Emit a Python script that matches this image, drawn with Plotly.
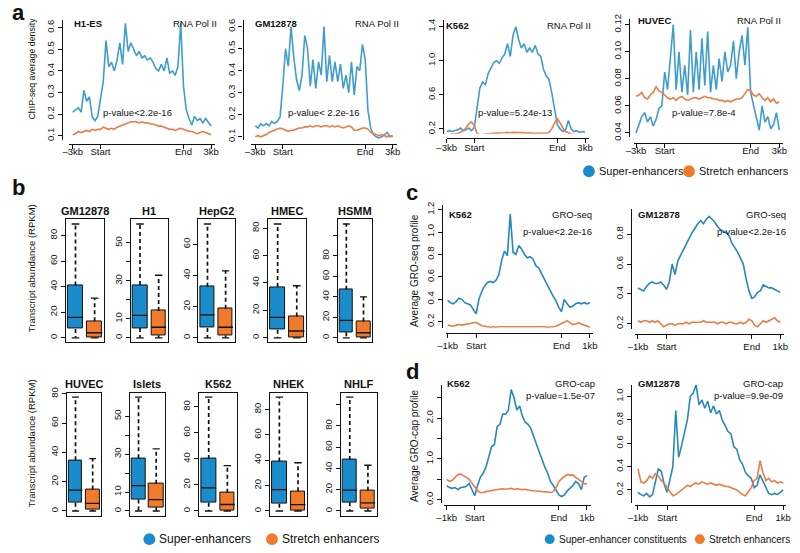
import plotly.graph_objects as go

W, H = 800, 553
FONT = "Liberation Sans, Arial, Helvetica, sans-serif"

BLUE_A = "#3f9dcd"
BLUE_CD = "#2689bc"
ORANGE_LN = "#eb7b47"
BLUE_BOX = "#1a8bcb"
ORANGE_BOX = "#f27a2b"
INK = "#111111"

# ---------------------------------------------------------------- data
# meta-gene positions (0 = upstream end, 20 = Start, 80 = End, 100 = downstream end)
positions = list(range(0, 101, 2))
x_tick_pos = [0, 20, 80, 100]
chip_ticks = ["–3kb", "Start", "End", "3kb"]
gro_ticks = ["–1kb", "Start", "End", "1kb"]

# panel a: RNA Pol II ChIP-seq average density
h1_super = [0.21, 0.22, 0.23, 0.21, 0.31, 0.26, 0.28, 0.19, 0.17, 0.19,
            0.27, 0.35, 0.54, 0.42, 0.44, 0.40, 0.45, 0.53, 0.43, 0.62,
            0.49, 0.53, 0.50, 0.47, 0.49, 0.46, 0.47, 0.45, 0.46, 0.44,
            0.41, 0.40, 0.43, 0.40, 0.46, 0.39, 0.40, 0.38, 0.42, 0.62,
            0.33, 0.22, 0.18, 0.15, 0.19, 0.17, 0.18, 0.16, 0.18, 0.16, 0.145]
h1_stretch = [0.105, 0.11, 0.12, 0.115, 0.12, 0.125, 0.12, 0.13, 0.125, 0.13,
              0.13, 0.14, 0.135, 0.13, 0.135, 0.13, 0.14, 0.145, 0.15, 0.155,
              0.16, 0.165, 0.165, 0.165, 0.16, 0.165, 0.16, 0.16, 0.155, 0.155,
              0.15, 0.145, 0.145, 0.14, 0.135, 0.13, 0.13, 0.125, 0.13, 0.135,
              0.13, 0.125, 0.12, 0.12, 0.115, 0.11, 0.115, 0.12, 0.115, 0.11, 0.105]
gm_chip_super = [0.15, 0.14, 0.16, 0.15, 0.16, 0.15, 0.17, 0.16, 0.17, 0.19,
                 0.33, 0.50, 0.42, 0.60, 0.46, 0.36, 0.31, 0.38, 0.56, 0.50,
                 0.33, 0.45, 0.32, 0.44, 0.38, 0.60, 0.35, 0.47, 0.35, 0.44,
                 0.35, 0.43, 0.32, 0.38, 0.30, 0.44, 0.29, 0.42, 0.40, 0.52,
                 0.45, 0.22, 0.14, 0.11, 0.10, 0.095, 0.10, 0.11, 0.12, 0.10, 0.105]
gm_chip_stretch = [0.10, 0.105, 0.10, 0.105, 0.11, 0.12, 0.125, 0.13, 0.135, 0.14,
                   0.135, 0.13, 0.125, 0.13, 0.13, 0.135, 0.14, 0.14, 0.145, 0.145,
                   0.15, 0.145, 0.15, 0.15, 0.145, 0.15, 0.15, 0.145, 0.15, 0.145,
                   0.15, 0.145, 0.14, 0.145, 0.15, 0.145, 0.13, 0.13, 0.135, 0.14,
                   0.14, 0.135, 0.12, 0.115, 0.11, 0.105, 0.11, 0.105, 0.10, 0.105, 0.10]
k562_chip_super = [0.17, 0.18, 0.17, 0.18, 0.19, 0.21, 0.18, 0.19, 0.21, 0.18,
                   0.22, 0.45, 0.68, 0.75, 0.72, 0.85, 0.92, 0.98, 1.00, 0.97,
                   1.03, 1.08, 1.20, 1.05, 1.30, 1.40, 1.25, 1.15, 1.20, 1.10,
                   1.15, 1.10, 1.18, 1.08, 1.05, 0.90, 0.82, 0.78, 0.62, 0.45,
                   0.25, 0.20, 0.17, 0.19, 0.30, 0.20, 0.17, 0.18, 0.16, 0.17, 0.16]
k562_chip_stretch = [0.13, 0.13, 0.14, 0.14, 0.15, 0.16, 0.18, 0.21, 0.26, 0.28,
                     0.24, 0.15, 0.13, 0.13, 0.14, 0.14, 0.145, 0.15, 0.15, 0.155,
                     0.15, 0.155, 0.16, 0.155, 0.16, 0.16, 0.155, 0.16, 0.155, 0.15,
                     0.155, 0.15, 0.15, 0.145, 0.15, 0.145, 0.15, 0.16, 0.20, 0.27,
                     0.32, 0.27, 0.21, 0.17, 0.15, 0.14, 0.135, 0.13, 0.125, 0.12, 0.115]
huvec_super = [0.040, 0.046, 0.052, 0.055, 0.048, 0.052, 0.045, 0.050, 0.058, 0.060,
               0.085, 0.072, 0.095, 0.120, 0.072, 0.100, 0.070, 0.090, 0.068, 0.116,
               0.070, 0.100, 0.072, 0.110, 0.075, 0.115, 0.070, 0.090, 0.072, 0.095,
               0.078, 0.100, 0.085, 0.090, 0.108, 0.080, 0.100, 0.112, 0.090, 0.118,
               0.070, 0.060, 0.050, 0.042, 0.060, 0.048, 0.052, 0.043, 0.046, 0.055, 0.042]
huvec_stretch = [0.067, 0.068, 0.070, 0.066, 0.065, 0.068, 0.070, 0.074, 0.071, 0.070,
                 0.068, 0.066, 0.065, 0.066, 0.064, 0.066, 0.067, 0.065, 0.064, 0.065,
                 0.066, 0.066, 0.065, 0.066, 0.067, 0.066, 0.066, 0.065, 0.065, 0.064,
                 0.064, 0.063, 0.064, 0.063, 0.064, 0.065, 0.065, 0.066, 0.069, 0.072,
                 0.071, 0.068, 0.067, 0.069, 0.066, 0.064, 0.066, 0.063, 0.065, 0.062, 0.063]

# panel c: GRO-seq profile
k562_groseq_super = [0.39, 0.37, 0.36, 0.38, 0.41, 0.40, 0.37, 0.36, 0.35, 0.31,
                     0.27, 0.40, 0.47, 0.52, 0.55, 0.56, 0.55, 0.57, 0.62, 0.75,
                     0.83, 0.79, 1.16, 0.82, 0.80, 0.88, 0.85, 0.80, 0.77, 0.78,
                     0.76, 0.70, 0.68, 0.63, 0.58, 0.53, 0.47, 0.43, 0.39, 0.33,
                     0.29, 0.40, 0.36, 0.33, 0.34, 0.36, 0.37, 0.36, 0.37, 0.36, 0.37]
k562_groseq_stretch = [0.17, 0.165, 0.16, 0.17, 0.175, 0.17, 0.175, 0.18, 0.185, 0.19,
                       0.195, 0.18, 0.165, 0.16, 0.155, 0.15, 0.155, 0.15, 0.155, 0.155,
                       0.16, 0.155, 0.16, 0.16, 0.155, 0.16, 0.155, 0.16, 0.155, 0.16,
                       0.155, 0.155, 0.16, 0.155, 0.155, 0.15, 0.15, 0.155, 0.16, 0.17,
                       0.18, 0.195, 0.21, 0.19, 0.175, 0.18, 0.19, 0.18, 0.17, 0.165, 0.15]
gm_groseq_super = [0.44, 0.43, 0.42, 0.45, 0.47, 0.48, 0.47, 0.47, 0.48, 0.46,
                   0.43, 0.48, 0.60, 0.53, 0.62, 0.66, 0.70, 0.74, 0.78, 0.81,
                   0.84, 0.87, 0.89, 0.87, 0.90, 0.92, 0.90, 0.88, 0.85, 0.83,
                   0.82, 0.81, 0.79, 0.74, 0.71, 0.68, 0.64, 0.60, 0.50, 0.42,
                   0.37, 0.38, 0.41, 0.42, 0.46, 0.45, 0.44, 0.44, 0.43, 0.42, 0.41]
gm_groseq_stretch = [0.22, 0.21, 0.22, 0.22, 0.21, 0.22, 0.21, 0.22, 0.20, 0.18,
                     0.19, 0.20, 0.20, 0.19, 0.20, 0.20, 0.20, 0.21, 0.20, 0.21,
                     0.21, 0.21, 0.21, 0.22, 0.21, 0.21, 0.21, 0.21, 0.20, 0.21,
                     0.21, 0.20, 0.21, 0.21, 0.20, 0.20, 0.21, 0.20, 0.21, 0.23,
                     0.22, 0.19, 0.18, 0.20, 0.22, 0.21, 0.22, 0.23, 0.24, 0.22, 0.21]

# panel d: GRO-cap profile
k562_grocap_super = [0.35, 0.30, 0.28, 0.30, 0.25, 0.30, 0.31, 0.33, 0.40, 0.25,
                     0.10, 0.35, 0.55, 0.65, 0.80, 1.05, 1.30, 1.35, 1.80, 1.85,
                     2.10, 2.10, 2.20, 2.70, 2.50, 2.20, 2.30, 2.05, 1.90, 1.85,
                     1.75, 1.55, 1.35, 1.20, 0.95, 0.80, 0.65, 0.45, 0.35, 0.25,
                     0.12, 0.08, 0.12, 0.22, 0.28, 0.35, 0.45, 0.40, 0.25, 0.55, 0.60]
k562_grocap_stretch = [0.50, 0.45, 0.48, 0.55, 0.62, 0.63, 0.60, 0.55, 0.50, 0.40,
                       0.30, 0.22, 0.18, 0.18, 0.20, 0.22, 0.23, 0.24, 0.25, 0.26,
                       0.27, 0.26, 0.27, 0.28, 0.26, 0.27, 0.26, 0.25, 0.26, 0.24,
                       0.23, 0.22, 0.22, 0.21, 0.20, 0.20, 0.19, 0.18, 0.20, 0.30,
                       0.45, 0.52, 0.58, 0.62, 0.60, 0.61, 0.55, 0.50, 0.45, 0.40, 0.38]
gm_grocap_super = [0.18, 0.16, 0.15, 0.17, 0.14, 0.16, 0.27, 0.38, 0.36, 0.25,
                   0.18, 0.30, 0.40, 0.88, 0.48, 0.58, 0.68, 0.80, 1.00, 1.03,
                   1.10, 0.93, 0.97, 0.90, 0.96, 0.86, 0.92, 0.85, 0.88, 0.80,
                   0.75, 0.70, 0.68, 0.57, 0.55, 0.46, 0.42, 0.35, 0.32, 0.30,
                   0.22, 0.24, 0.33, 0.28, 0.22, 0.17, 0.16, 0.17, 0.16, 0.18, 0.20]
gm_grocap_stretch = [0.38, 0.27, 0.26, 0.28, 0.32, 0.30, 0.34, 0.32, 0.28, 0.26,
                     0.22, 0.18, 0.15, 0.16, 0.18, 0.20, 0.22, 0.24, 0.23, 0.25,
                     0.26, 0.25, 0.27, 0.26, 0.25, 0.26, 0.25, 0.24, 0.25, 0.24,
                     0.23, 0.23, 0.22, 0.21, 0.20, 0.18, 0.16, 0.15, 0.18, 0.22,
                     0.28, 0.30, 0.45, 0.35, 0.28, 0.30, 0.27, 0.28, 0.26, 0.27, 0.26]

# panel b: transcript abundance (RPKM) box statistics
box_cells = ["GM12878", "H1", "HepG2", "HMEC", "HSMM",
             "HUVEC", "Islets", "K562", "NHEK", "NHLF"]
se_lower = [0, 0, 0, 0, 0, 0, 0, 0, 0, 0]
se_q1 = [7, 5.2, 6.4, 6, 5.5, 5.7, 6, 6.3, 5.7, 8.3]
se_median = [16, 11.8, 14.8, 15, 17, 14.3, 13.4, 17.8, 16.8, 19.7]
se_q3 = [41, 27.8, 32.8, 37, 47, 34.7, 27.8, 40, 39, 48]
se_upper = [89, 60, 73, 83, 111, 77.8, 60, 87.5, 89.7, 107]
st_lower = [0, 0, 0, 0, 0, 0, 0, 0, 0, 0]
st_q1 = [0.5, 1.4, 1.7, 0.3, 0.6, 1.1, 2, 0.5, 0.5, 2]
st_median = [4, 5.6, 6.8, 5, 5, 5.2, 6, 5, 5, 7.7]
st_q3 = [13, 14.2, 18.6, 15.6, 16, 14.7, 14.3, 14, 15.5, 19]
st_upper = [31, 33, 43, 38, 40, 35.8, 32.7, 34.8, 38, 43]
ticks_by_20 = [0, 20, 40, 60, 80]
ticks_by_20_to_100 = [0, 20, 40, 60, 80, 100]
labels_by_20_to_100 = ["0", "20", "40", "60", "80", ""]
ticks_by_10 = [0, 10, 20, 30, 40, 50]
labels_by_10 = ["0", "10", "", "30", "", "50"]
ticks_hepg2 = [0, 20, 40, 60]


def px(x):
    return x / W


def py(y):
    return 1 - y / H


def value_at(v1, p1, v2, p2, p):
    return v1 + (p - p1) * (v2 - v1) / (p2 - p1)


fig = go.Figure()
axes = {}
annotations = []
shapes = []


def note(text, x, y, size=10, xanchor="center", bold=False, angle=0):
    annotations.append(dict(
        text=f"<b>{text}</b>" if bold else text,
        x=px(x), y=py(y), xref="paper", yref="paper", showarrow=False,
        xanchor=xanchor, yanchor="middle", textangle=angle,
        font=dict(family=FONT, size=size, color=INK),
    ))


tick_font = dict(family=FONT, size=9.5, color=INK)

# ---------------------------------------------------------------- line panels
line_panels = [
    dict(cell="H1-ES", assay="RNA Pol II", pval="p-value&lt;2.2e-16",
         super_=h1_super, stretch=h1_stretch, xtext=chip_ticks,
         yticks=[0.1, 0.2, 0.3, 0.4, 0.5, 0.6], ytext=None, blue=BLUE_A,
         x0=64, x100=205, dom_x=(60, 209), yref=(0.1, 133, 0.6, 23), dom_y=(15, 137),
         yline=53, xline=141, head=(63, 213, 19), pv=(130, 109, "center"), lift=-5),
    dict(cell="GM12878", assay="RNA Pol II", pval="p-value&lt; 2.2e-16",
         super_=gm_chip_super, stretch=gm_chip_stretch, xtext=chip_ticks,
         yticks=[0.1, 0.2, 0.3, 0.4, 0.5, 0.6], ytext=None, blue=BLUE_A,
         x0=250, x100=390, dom_x=(246, 394), yref=(0.1, 134, 0.6, 22), dom_y=(15, 137),
         yline=237, xline=141, head=(248, 398, 19), pv=(320, 109, "center"), lift=-5),
    dict(cell="K562", assay="RNA Pol II", pval="p-value=5.24e-13",
         super_=k562_chip_super, stretch=k562_chip_stretch, xtext=chip_ticks,
         yticks=[0.2, 0.6, 1.0, 1.4], ytext=None, blue=BLUE_A,
         x0=445, x100=586, dom_x=(445, 590), yref=(0.2, 126, 1.4, 22), dom_y=(15, 131),
         yline=441, xline=135, head=(442, 594, 21), pv=(515, 109, "center"), lift=-3),
    dict(cell="HUVEC", assay="RNA Pol II", pval="p-value=7.8e-4",
         super_=huvec_super, stretch=huvec_stretch, xtext=chip_ticks,
         yticks=[0.04, 0.06, 0.08, 0.10, 0.12],
         ytext=["0.04", "0.06", "0.08", "0.10", "0.12"], blue=BLUE_A,
         x0=638, x100=784, dom_x=(636, 788), yref=(0.04, 130, 0.12, 20), dom_y=(14, 134),
         yline=631, xline=140, head=(638, 788, 16), pv=(707, 109, "center"), lift=-5),
    dict(cell="K562", assay="GRO-seq", pval="p-value&lt;2.2e-16",
         super_=k562_groseq_super, stretch=k562_groseq_stretch, xtext=gro_ticks,
         yticks=[0.2, 0.4, 0.6, 0.8, 1.0, 1.2], ytext=None, blue=BLUE_CD,
         x0=446, x100=591, dom_x=(444, 594), yref=(0.2, 322, 1.2, 208), dom_y=(203, 328),
         yline=440, xline=333, head=(445, 595, 213), pv=(595, 230, "right"), lift=0),
    dict(cell="GM12878", assay="GRO-seq", pval="p-value&lt;2.2e-16",
         super_=gm_groseq_super, stretch=gm_groseq_stretch, xtext=gro_ticks,
         yticks=[0.2, 0.4, 0.6, 0.8], ytext=None, blue=BLUE_CD,
         x0=640, x100=785, dom_x=(637, 789), yref=(0.2, 324, 0.8, 233), dom_y=(207, 329),
         yline=633, xline=334, head=(638, 793, 213), pv=(793, 230, "right"), lift=0),
    dict(cell="K562", assay="GRO-cap", pval="p-value=1.5e-07",
         super_=k562_grocap_super, stretch=k562_grocap_stretch, xtext=gro_ticks,
         yticks=[0, 0.5, 1.0, 1.5, 2.0, 2.5], ytext=["0.0", "", "1.0", "", "2.0", ""],
         blue=BLUE_CD,
         x0=445, x100=588, dom_x=(442, 592), yref=(0.0, 503, 2.0, 420), dom_y=(386, 506),
         yline=439, xline=508, head=(443, 598, 385), pv=(598, 397, "right"), lift=0),
    dict(cell="GM12878", assay="GRO-cap", pval="p-value=9.9e-09",
         super_=gm_grocap_super, stretch=gm_grocap_stretch, xtext=gro_ticks,
         yticks=[0.2, 0.4, 0.6, 0.8, 1.0], ytext=None, blue=BLUE_CD,
         x0=640, x100=788, dom_x=(637, 791), yref=(0.2, 493, 1.0, 398), dom_y=(386, 506),
         yline=633, xline=508, head=(638, 790, 385), pv=(790, 397, "right"), lift=0),
]

n = 0
for p in line_panels:
    n += 1
    sfx = "" if n == 1 else str(n)
    unit = (p["x100"] - p["x0"]) / 100
    left, right = p["dom_x"]
    top, bot = p["dom_y"]
    v1, p1, v2, p2 = p["yref"]
    for series, color in ((p["super_"], p["blue"]), (p["stretch"], ORANGE_LN)):
        fig.add_trace(go.Scatter(
            x=positions, y=series, xaxis="x" + sfx, yaxis="y" + sfx,
            mode="lines", line=dict(color=color, width=1.6),
            showlegend=False, hoverinfo="skip",
        ))
    axes["xaxis" + sfx] = dict(
        domain=[px(left), px(right)],
        range=[(left - p["x0"]) / unit, (right - p["x0"]) / unit],
        anchor="free", position=py(p["xline"]),
        tickvals=x_tick_pos, ticktext=p["xtext"],
        ticklabelstandoff=p["lift"],
    )
    ytext = p["ytext"] or [f"{v:.1f}" for v in p["yticks"]]
    axes["yaxis" + sfx] = dict(
        domain=[py(bot), py(top)],
        range=[value_at(v1, p1, v2, p2, bot), value_at(v1, p1, v2, p2, top)],
        anchor="free", position=px(p["yline"]),
        tickvals=p["yticks"], ticktext=ytext, tickangle=-90,
    )
    hx0, hx1, hy = p["head"]
    note(p["cell"], hx0, hy, size=9.5, xanchor="left", bold=True)
    note(p["assay"], hx1, hy, size=9.5, xanchor="right")
    note(p["pval"], p["pv"][0], p["pv"][1], size=9.5, xanchor=p["pv"][2])

# ---------------------------------------------------------------- box panels
frames = [(57, 96), (123, 161), (192, 229), (263, 302), (334, 369),
          (58, 93), (122, 158), (193, 231), (265, 303), (337, 374)]
rows = [(218, 343), (394, 519)]
box_ticks = [(ticks_by_20, None), (ticks_by_10, labels_by_10), (ticks_hepg2, None),
             (ticks_by_20, None), (ticks_by_20_to_100, labels_by_20_to_100),
             (ticks_by_20, None), (ticks_by_10, labels_by_10), (ticks_by_20, None),
             (ticks_by_20, None), (ticks_by_20_to_100, labels_by_20_to_100)]

for i, cell in enumerate(box_cells):
    n += 1
    sfx = str(n)
    xa, ya = "x" + sfx, "y" + sfx
    left, right = frames[i]
    top, bot = rows[i // 5]
    lo = min(se_lower[i], st_lower[i])
    hi = max(se_upper[i], st_upper[i])
    span = hi - lo

    fig.add_trace(go.Bar(
        x=[1, 2], y=[se_q3[i] - se_q1[i], st_q3[i] - st_q1[i]],
        base=[se_q1[i], st_q1[i]], width=0.8,
        marker=dict(color=[BLUE_BOX, ORANGE_BOX], line=dict(color=INK, width=1)),
        xaxis=xa, yaxis=ya, showlegend=False, hoverinfo="skip",
    ))
    fig.add_trace(go.Scatter(
        x=[1, 1, None, 1, 1, None, 2, 2, None, 2, 2],
        y=[se_q3[i], se_upper[i], None, se_q1[i], se_lower[i], None,
           st_q3[i], st_upper[i], None, st_q1[i], st_lower[i]],
        mode="lines", line=dict(color=INK, width=1.7, dash="4px,3px"),
        xaxis=xa, yaxis=ya, showlegend=False, hoverinfo="skip",
    ))
    fig.add_trace(go.Scatter(
        x=[0.8, 1.2, None, 0.8, 1.2, None, 1.8, 2.2, None, 1.8, 2.2,
           None, 0.6, 1.4, None, 1.6, 2.4],
        y=[se_upper[i], se_upper[i], None, se_lower[i], se_lower[i], None,
           st_upper[i], st_upper[i], None, st_lower[i], st_lower[i],
           None, se_median[i], se_median[i], None, st_median[i], st_median[i]],
        mode="lines", line=dict(color=INK, width=1.3),
        xaxis=xa, yaxis=ya, showlegend=False, hoverinfo="skip",
    ))
    tv, tt = box_ticks[i]
    axes["xaxis" + sfx] = dict(
        domain=[px(left), px(right)], range=[0.5, 2.5], anchor=ya,
        mirror=True, ticks="", showticklabels=False,
    )
    axes["yaxis" + sfx] = dict(
        domain=[py(bot), py(top)], range=[lo - 0.04 * span, hi + 0.04 * span],
        anchor=xa, mirror=True, tickvals=tv,
        ticktext=tt or [str(v) for v in tv], tickangle=-90,
    )
    note(cell, (left + right) / 2, top - 9, size=11, bold=True)

for key, ax in axes.items():
    ax.setdefault("ticks", "outside")
    ax.update(showline=True, linecolor=INK, linewidth=1.2, ticklen=4,
              tickwidth=1, tickcolor=INK, showgrid=False, zeroline=False,
              tickfont=tick_font, fixedrange=True)

# ---------------------------------------------------------------- labels
note("<b>a</b>", 9, 8, size=22)
note("<b>b</b>", 9, 186, size=22)
note("<b>c</b>", 410, 191, size=22)
note("<b>d</b>", 410, 373, size=22)

note("ChIP-seq average density", 22, 65, size=8.8, angle=-90)
note("Transcript abundance (RPKM)", 22, 268, size=9.5, angle=-90)
note("Transcript abundance (RPKM)", 22, 446, size=9.5, angle=-90)
note("Average GRO-seq profile", 412, 270, size=10, angle=-90)
note("Average GRO-cap profile", 412, 448, size=10, angle=-90)


def legend_item(cx, cy, r, color, label, size):
    shapes.append(dict(type="circle", xref="paper", yref="paper",
                       x0=px(cx - r), x1=px(cx + r), y0=py(cy + r), y1=py(cy - r),
                       fillcolor=color, line=dict(width=0)))
    note(label, cx + r + 2, cy, size=size, xanchor="left")


legend_item(590, 169, 6, BLUE_BOX, "Super-enhancers", 11)
legend_item(692, 169, 6, ORANGE_BOX, "Stretch enhancers", 11)
legend_item(142, 543, 6, BLUE_BOX, "Super-enhancers", 12)
legend_item(267, 543, 6, ORANGE_BOX, "Stretch enhancers", 12)
legend_item(550, 543, 5, BLUE_BOX, "Super-enhancer constituents", 10)
legend_item(703, 543, 5, ORANGE_BOX, "Stretch enhancers", 10)

fig.update_layout(
    width=W, height=H, autosize=False,
    margin=dict(l=0, r=0, t=0, b=0),
    paper_bgcolor="white", plot_bgcolor="white",
    font=dict(family=FONT, color=INK),
    showlegend=False, bargap=0,
    annotations=annotations, shapes=shapes,
    **axes,
)

# the page body keeps its default 8px margin otherwise
fig.write_html("out.html", config={"displayModeBar": False},
               post_script="document.body.style.margin = '0';")
